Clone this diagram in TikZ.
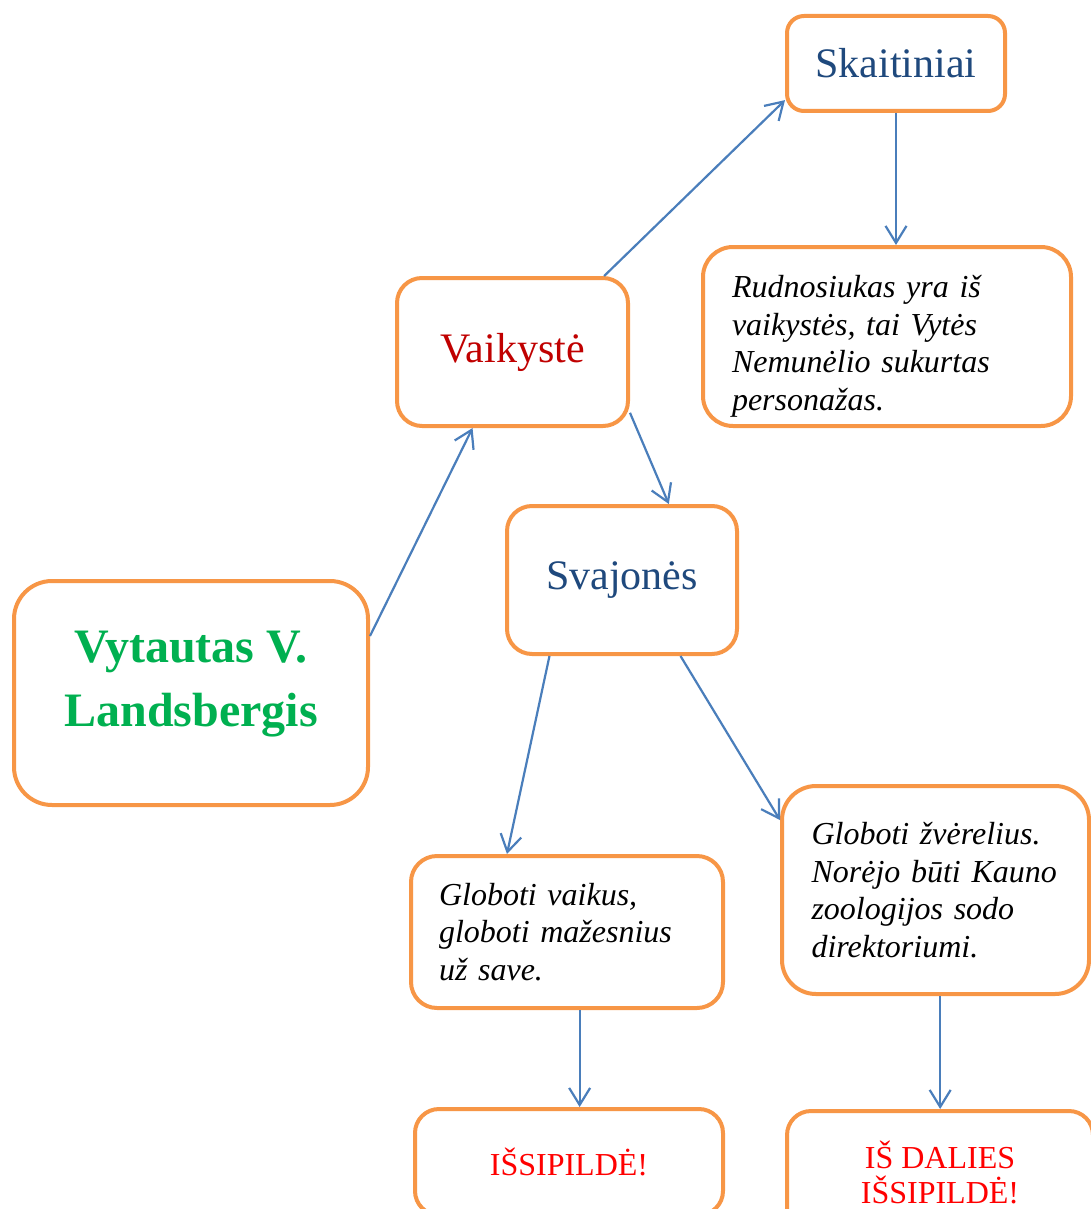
\documentclass[tikz,border=0pt]{standalone}
\usepackage{fontspec}
\setmainfont{Liberation Serif}
\usetikzlibrary{arrows.meta,calc}
\definecolor{boxorange}{HTML}{F79646}
\definecolor{arrblue}{HTML}{4A7EBB}
\definecolor{titleblue}{HTML}{1F497D}
\definecolor{titlered}{HTML}{C00000}
\definecolor{namegreen}{HTML}{00B050}
\begin{document}
\begin{tikzpicture}[x=1pt,y=-1pt,
    box/.style={draw=boxorange,line width=4pt,rounded corners=#1,fill=white},
    box/.default=24pt,
    title/.style={font=\fontsize{42}{48}\selectfont},
    note/.style={font=\itshape\fontsize{32}{37.5}\selectfont,align=left},
    result/.style={font=\fontsize{32}{35}\selectfont,align=center,text=red},
    arr/.style={draw=arrblue,line width=2.2pt,-{Straight Barb[length=17pt,width=21pt]}}]
    \useasboundingbox (0,0) rectangle (1091,1209);
    \node[box=38pt,minimum width=354pt,minimum height=224pt,align=center,
        font=\bfseries\fontsize{48}{64}\selectfont,text=namegreen] (vyt) at (191,693)
        {Vytautas V.\\Landsbergis\rule[-28pt]{0pt}{0pt}};
    \node[box=25pt,title,text=titlered,minimum width=231pt,minimum height=148pt] (vaik) at (512.5,352) {Vaikystė};
    \node[box=17pt,title,text=titleblue,minimum width=218pt,minimum height=95pt] (skait) at (896,63.5) {Skaitiniai};
    \node[box=30pt,note,text width=310pt,minimum width=368pt,minimum height=179pt] (rud) at (887,336.5)
        {\rule{0pt}{42pt}Rudnosiukas yra iš\\vaikystės, tai Vytės\\Nemunėlio sukurtas\\personažas.};
    \node[box=25pt,title,text=titleblue,minimum width=230pt,minimum height=148pt] (svaj) at (622,580) {Svajonės};
    \node[box=26pt,note,text width=256pt,minimum width=312pt,minimum height=152pt] (gv) at (567,932)
        {Globoti vaikus,\\globoti mažesnius\\už save.};
    \node[box=34pt,note,text width=248pt,minimum width=307pt,minimum height=208pt] (gz) at (935.5,890)
        {Globoti žvėrelius.\\Norėjo būti Kauno\\zoologijos sodo\\direktoriumi.};
    \node[box=24pt,result,minimum width=308pt,minimum height=106pt] (iss) at (569,1162) {IŠSIPILDĖ!};
    \node[box=24pt,result,minimum width=306pt,minimum height=122pt] (dal) at (940,1172) {IŠ DALIES\\IŠSIPILDĖ!};
    \coordinate (gvout) at ($(gv.south west)!0.54!(gv.south east)$);
    \coordinate (gzout) at ($(gz.south west)!0.515!(gz.south east)$);
    \draw[arr] ($(vyt.north east)!0.25!(vyt.south east)$) -- ($(vaik.south west)!0.33!(vaik.south east)$);
    \draw[arr] ($(vaik.north west)!0.89!(vaik.north east)$) -- ($(skait.north west)!0.87!(skait.south west)$);
    \draw[arr] (skait.south) -- (skait.south |- rud.north);
    \draw[arr] ($(vaik.north east)!0.9!(vaik.south east)$) -- ($(svaj.north west)!0.7!(svaj.north east)$);
    \draw[arr] ($(svaj.south west)!0.19!(svaj.south east)$) -- ($(gv.north west)!0.31!(gv.north east)$);
    \draw[arr] ($(svaj.south west)!0.75!(svaj.south east)$) -- ($(gz.north west)!0.17!(gz.south west)$);
    \draw[arr] (gvout) -- (gvout |- iss.north);
    \draw[arr] (gzout) -- (gzout |- dal.north);
\end{tikzpicture}
\end{document}
